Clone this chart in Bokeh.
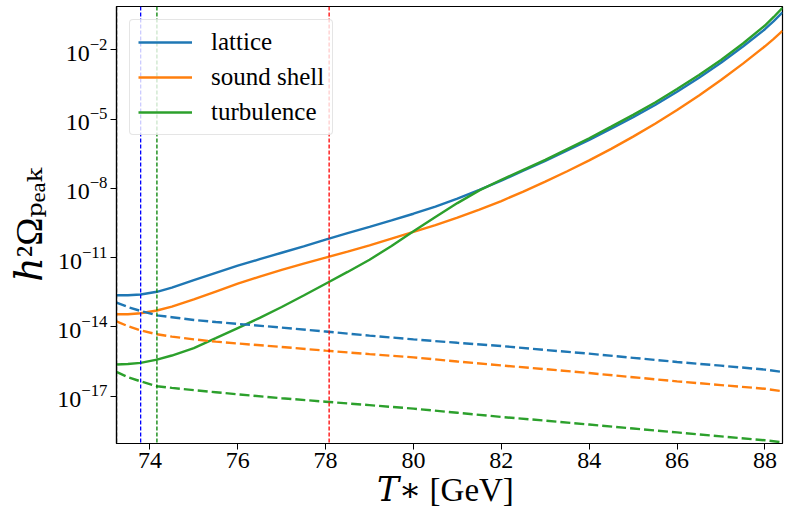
import numpy as np
from bokeh.plotting import figure
from bokeh.models import FixedTicker, Legend, LegendItem, Span, Range1d, LogTickFormatter
from bokeh.embed import file_html
from bokeh.resources import INLINE

# ---- data: log10 of h^2 Omega_peak versus T_* [GeV] ----
T_solid = [73.24, 73.5, 73.79, 74.16, 74.5, 75, 75.5, 76, 76.5, 77, 77.5, 78, 78.5, 79, 79.5,
           80, 80.5, 81, 81.5, 82, 82.5, 83, 83.5, 84, 84.5, 85, 85.5, 86, 86.5, 87, 87.5,
           88, 88.2, 88.4]
lattice_solid_log10 = [-12.63, -12.63, -12.60, -12.48, -12.30, -11.98, -11.66, -11.35, -11.07, -10.79,
                       -10.51, -10.22, -9.94, -9.67, -9.39, -9.10, -8.79, -8.45, -8.07, -7.67,
                       -7.24, -6.81, -6.36, -5.90, -5.42, -4.92, -4.39, -3.82, -3.21, -2.56,
                       -1.86, -1.11, -0.76, -0.38]
sound_solid_log10 = [-13.45, -13.45, -13.41, -13.29, -13.12, -12.81, -12.47, -12.13, -11.82, -11.53,
                     -11.26, -11.00, -10.74, -10.47, -10.18, -9.89, -9.59, -9.27, -8.92, -8.55,
                     -8.14, -7.71, -7.26, -6.79, -6.29, -5.76, -5.20, -4.61, -3.98, -3.31,
                     -2.60, -1.85, -1.53, -1.18]
turb_solid_log10 = [-15.63, -15.61, -15.56, -15.42, -15.24, -14.92, -14.49, -14.05, -13.61, -13.14,
                    -12.64, -12.13, -11.62, -11.09, -10.50, -9.86, -9.24, -8.64, -8.09, -7.63,
                    -7.20, -6.77, -6.30, -5.83, -5.33, -4.82, -4.28, -3.70, -3.09, -2.44,
                    -1.73, -0.95, -0.58, -0.18]

T_dash = [73.24, 73.5, 73.79, 74.16, 74.5, 75, 75.5, 76, 77, 78, 79, 80, 81, 82, 83, 84, 85, 86,
          87, 88, 88.4]
lattice_dash_log10 = [-12.95, -13.14, -13.31, -13.50, -13.58, -13.70, -13.79, -13.87, -14.03, -14.20,
                      -14.38, -14.54, -14.69, -14.83, -15.00, -15.16, -15.34, -15.52, -15.68, -15.85,
                      -15.95]
sound_dash_log10 = [-13.76, -13.97, -14.15, -14.32, -14.42, -14.54, -14.64, -14.72, -14.87, -15.03,
                    -15.18, -15.32, -15.50, -15.67, -15.83, -16.00, -16.18, -16.36, -16.52, -16.68,
                    -16.79]
turb_dash_log10 = [-15.95, -16.18, -16.36, -16.57, -16.64, -16.74, -16.83, -16.92, -17.09, -17.24,
                   -17.39, -17.54, -17.72, -17.90, -18.06, -18.23, -18.40, -18.57, -18.74, -18.91,
                   -19.00]

series_labels = ["lattice", "sound shell", "turbulence"]
series_colors = ["#1f77b4", "#ff7f0e", "#2ca02c"]

vline_T = [73.24, 73.79, 74.16, 78.08]
vline_colors = ["black", "blue", "green", "red"]

x_ticks = [74, 76, 78, 80, 82, 84, 86, 88]
y_tick_exponents = [-17, -14, -11, -8, -5, -2]

x_limits = (73.24, 88.40)
y_limits_log10 = (-19.05, -0.126)

x_title = "\U0001D447\u2217  [GeV]"
y_title = "\u210E\u00B2\u03A9\u209A\u2091\u2090\u2096"

FONT = "Liberation Serif"
TITLE_FONT = "'Liberation Serif', 'DejaVu Serif', serif"

p = figure(width=789, height=524, output_backend="svg", toolbar_location=None,
           y_axis_type="log",
           x_range=Range1d(*x_limits),
           y_range=Range1d(10 ** y_limits_log10[0], 10 ** y_limits_log10[1]),
           min_border_left=116, min_border_right=7, min_border_top=6, min_border_bottom=81)

p.xgrid.visible = False
p.ygrid.visible = False
p.outline_line_color = "black"
p.outline_line_width = 1.2
p.background_fill_color = "white"
p.border_fill_color = "white"

for ax in (p.xaxis[0], p.yaxis[0]):
    ax.axis_line_color = "black"
    ax.axis_line_width = 1.2
    ax.major_tick_line_color = "black"
    ax.major_tick_line_width = 1.0
    ax.major_tick_out = 6
    ax.major_tick_in = 0
    ax.minor_tick_line_color = None
    ax.major_label_text_font = FONT
    ax.major_label_text_font_size = "24px"
    ax.major_label_text_color = "black"
    ax.axis_label_text_font = TITLE_FONT
    ax.axis_label_text_font_style = "normal"
    ax.axis_label_text_color = "black"

p.xaxis.ticker = FixedTicker(ticks=x_ticks)
p.xaxis.major_label_standoff = 3
p.xaxis.axis_label = x_title
p.xaxis.axis_label_text_font_size = "33px"
p.xaxis.axis_label_standoff = 1

p.yaxis.ticker = FixedTicker(ticks=[10.0 ** e for e in y_tick_exponents])
p.yaxis.formatter = LogTickFormatter()
p.yaxis.major_label_standoff = 3
p.yaxis.axis_label = y_title
p.yaxis.axis_label_text_font_size = "38px"
p.yaxis.axis_label_standoff = 4

solid_renderers = []
for vals, c in zip([lattice_solid_log10, sound_solid_log10, turb_solid_log10], series_colors):
    r = p.line(np.array(T_solid), 10.0 ** np.array(vals), line_color=c, line_width=2.4)
    solid_renderers.append(r)
for vals, c in zip([lattice_dash_log10, sound_dash_log10, turb_dash_log10], series_colors):
    p.line(np.array(T_dash), 10.0 ** np.array(vals), line_color=c, line_width=2.4, line_dash="10 4")

for t, c in zip(vline_T, vline_colors):
    p.add_layout(Span(location=t, dimension="height", line_color=c, line_width=1.3, line_dash="4 2"))

legend = Legend(items=[LegendItem(label=l, renderers=[r]) for l, r in zip(series_labels, solid_renderers)],
                location="top_left", margin=13, padding=8, spacing=7,
                glyph_width=54, glyph_height=28, label_height=28, label_standoff=19,
                label_text_font=FONT, label_text_font_size="25px", label_text_color="black",
                border_line_color="#cccccc", border_line_width=1,
                background_fill_color="white", background_fill_alpha=0.8)
if "border_radius" in Legend.properties():
    legend.border_radius = 4
p.add_layout(legend)

open("out.html", "w").write(file_html(p, INLINE))
